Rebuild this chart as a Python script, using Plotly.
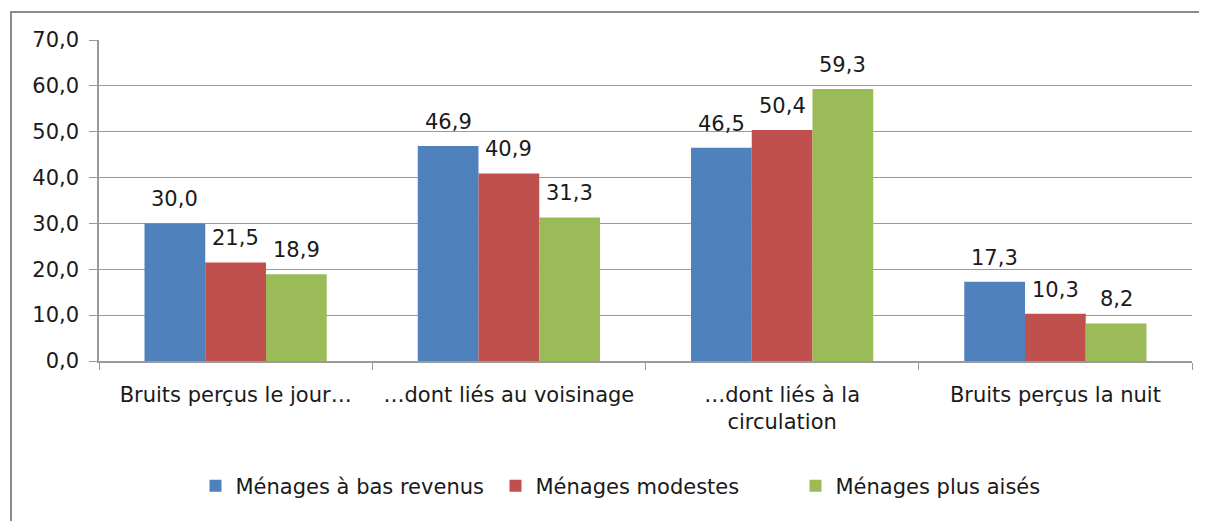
import plotly.graph_objects as go

categories = ["Bruits perçus le jour…", "…dont liés au voisinage", "…dont liés à la<br>circulation", "Bruits perçus la nuit"]
series_names = ["Ménages à bas revenus", "Ménages modestes", "Ménages plus aisés"]
bas_revenus = [30.0, 46.9, 46.5, 17.3]
modestes = [21.5, 40.9, 50.4, 10.3]
plus_aises = [18.9, 31.3, 59.3, 8.2]
colors = ["#4F81BD", "#C0504D", "#9BBB59"]

FONT = "'DejaVu Sans', sans-serif"
FS = 21
W, H = 1199, 513
L, R, T, B = 91, 15, 32, 160
BARGAP = 0.333
plot_w = W - L - R
bar_px = plot_w / len(categories) * (1 - BARGAP) / len(series_names)

fig = go.Figure()
annotations = []
all_vals = [bas_revenus, modestes, plus_aises]
for i, (name, vals, col) in enumerate(zip(series_names, all_vals, colors)):
    fig.add_trace(go.Bar(
        x=categories, y=vals, name=name, marker=dict(color=col, line=dict(width=0)),
    ))
    for cat, v in zip(categories, vals):
        annotations.append(dict(
            x=cat, y=v, xref="x", yref="y", text=f"{v:.1f}".replace(".", ","),
            showarrow=False, yanchor="bottom", xanchor="center",
            xshift=(i - (len(series_names) - 1) / 2) * bar_px, yshift=10,
            font=dict(size=FS, color="#1a1a1a", family=FONT),
        ))

fig.update_layout(
    width=W, height=H,
    margin=dict(l=L, r=R, t=T, b=B, autoexpand=False),
    paper_bgcolor="white", plot_bgcolor="white",
    separators=",.",
    barmode="group", bargap=BARGAP, bargroupgap=0,
    font=dict(family=FONT, size=FS, color="#1a1a1a"),
    annotations=annotations,
    legend=dict(orientation="h", x=0.50, xanchor="center", y=-0.39, yanchor="middle",
                font=dict(size=FS, family=FONT), itemwidth=30, traceorder="normal",
                entrywidth=255, entrywidthmode="pixels"),
    yaxis=dict(range=[0, 70], dtick=10, tickformat=".1f", showgrid=True,
               gridcolor="#9a9a9a", gridwidth=1.3, showline=True, linecolor="#9a9a9a",
               linewidth=1.5, ticks="outside", ticklen=8, tickcolor="#9a9a9a",
               tickfont=dict(size=FS), zeroline=False, ticklabelstandoff=6),
    xaxis=dict(showline=True, linecolor="#9a9a9a", linewidth=1.5, ticks="outside",
               tickson="boundaries", ticklen=7, tickcolor="#9a9a9a",
               tickfont=dict(size=FS), ticklabelstandoff=14),
    shapes=[dict(type="rect", xref="paper", yref="paper", x0=-0.0805, x1=1.2,
                 y0=-1.0, y1=1.087, line=dict(color="#8c8c8c", width=2), layer="below")],
)
fig.write_html("out.html")
